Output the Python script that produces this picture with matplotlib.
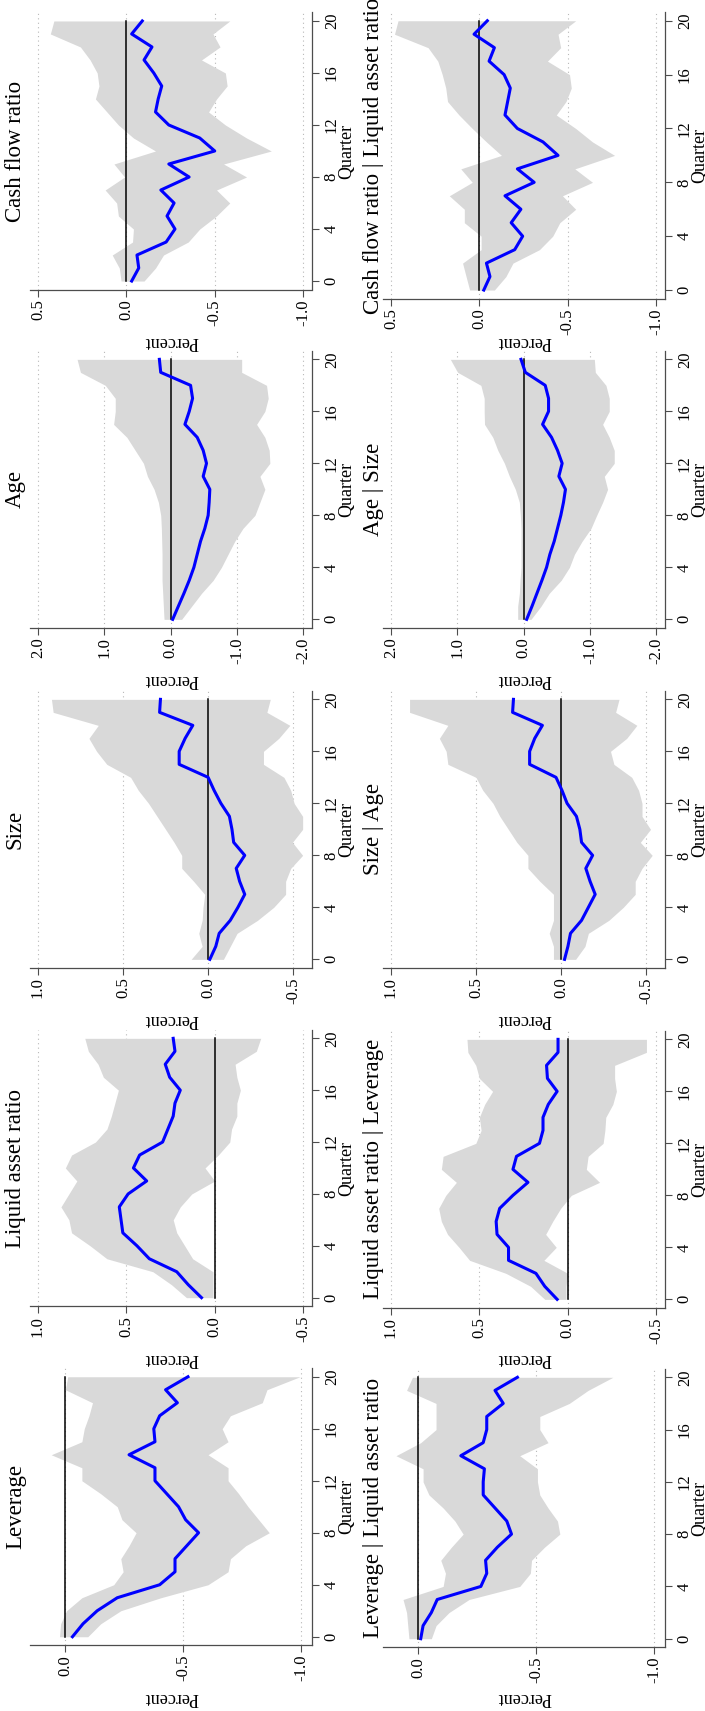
import matplotlib
matplotlib.use("Agg")
from matplotlib import pyplot as plt
import numpy as np

## Data: impulse responses (percent) by quarter, point estimate and band
quarters = np.arange(21)

lev_b = [-0.03, -0.075, -0.135, -0.22, -0.40, -0.465, -0.465, -0.515, -0.565, -0.51, -0.48,
         -0.43, -0.38, -0.38, -0.27, -0.38, -0.375, -0.40, -0.475, -0.425, -0.52]
lev_hi = [0.025, 0.02, -0.005, -0.07, -0.205, -0.245, -0.235, -0.27, -0.30, -0.24, -0.22,
          -0.15, -0.07, -0.07, 0.06, -0.07, -0.08, -0.10, -0.115, 0.0, -0.01]
lev_lo = [-0.095, -0.15, -0.235, -0.405, -0.605, -0.69, -0.70, -0.765, -0.865, -0.82, -0.775,
          -0.735, -0.69, -0.69, -0.605, -0.69, -0.665, -0.70, -0.835, -0.855, -0.995]

levliq_b = [-0.01, -0.02, -0.055, -0.08, -0.265, -0.29, -0.285, -0.335, -0.395, -0.375, -0.325,
            -0.275, -0.275, -0.28, -0.18, -0.275, -0.29, -0.29, -0.36, -0.325, -0.42]
levliq_hi = [0.04, 0.045, 0.05, 0.065, -0.105, -0.115, -0.095, -0.14, -0.19, -0.155, -0.105,
             -0.045, -0.02, -0.02, 0.095, -0.01, -0.075, -0.075, -0.075, 0.05, 0.025]
levliq_lo = [-0.055, -0.075, -0.13, -0.215, -0.43, -0.475, -0.48, -0.535, -0.60, -0.59, -0.55,
             -0.515, -0.505, -0.505, -0.43, -0.55, -0.515, -0.515, -0.64, -0.72, -0.825]

liq_b = [0.075, 0.15, 0.215, 0.37, 0.44, 0.52, 0.53, 0.54, 0.49, 0.385, 0.46,
         0.425, 0.295, 0.265, 0.235, 0.225, 0.195, 0.255, 0.28, 0.225, 0.235]
liq_hi = [0.16, 0.245, 0.35, 0.61, 0.705, 0.81, 0.825, 0.87, 0.825, 0.78, 0.845,
          0.81, 0.675, 0.61, 0.585, 0.565, 0.545, 0.63, 0.66, 0.715, 0.735]
liq_lo = [0.01, 0.01, 0.01, 0.125, 0.17, 0.215, 0.235, 0.195, 0.13, 0.0, 0.055,
          -0.02, -0.085, -0.095, -0.125, -0.125, -0.145, -0.125, -0.115, -0.235, -0.26]

liqlev_b = [0.06, 0.13, 0.18, 0.335, 0.335, 0.40, 0.405, 0.385, 0.31, 0.225, 0.31,
            0.29, 0.16, 0.14, 0.14, 0.11, 0.06, 0.115, 0.12, 0.055, 0.055]
liqlev_hi = [0.13, 0.21, 0.35, 0.555, 0.615, 0.68, 0.715, 0.73, 0.69, 0.63, 0.715,
             0.705, 0.52, 0.49, 0.50, 0.47, 0.425, 0.50, 0.52, 0.565, 0.57]
liqlev_lo = [0.01, 0.01, 0.0, 0.135, 0.065, 0.125, 0.085, 0.04, -0.02, -0.18, -0.105,
             -0.115, -0.2, -0.21, -0.215, -0.255, -0.275, -0.265, -0.265, -0.445, -0.445]

size_b = [-0.01, -0.045, -0.065, -0.13, -0.175, -0.215, -0.185, -0.165, -0.215, -0.15, -0.14,
          -0.125, -0.075, -0.035, 0.0, 0.17, 0.17, 0.135, 0.09, 0.285, 0.28]
size_hi = [0.10, 0.035, 0.055, 0.035, 0.03, 0.02, 0.085, 0.155, 0.155, 0.20, 0.25,
           0.30, 0.35, 0.41, 0.455, 0.595, 0.655, 0.70, 0.645, 0.91, 0.92]
size_lo = [-0.09, -0.13, -0.17, -0.29, -0.385, -0.455, -0.455, -0.485, -0.555, -0.495, -0.555,
           -0.555, -0.505, -0.485, -0.445, -0.325, -0.325, -0.415, -0.48, -0.345, -0.365]

sizeage_b = [-0.02, -0.04, -0.055, -0.12, -0.16, -0.20, -0.17, -0.145, -0.185, -0.12, -0.11,
             -0.09, -0.035, -0.005, 0.03, 0.185, 0.185, 0.155, 0.11, 0.285, 0.28]
sizeage_hi = [0.045, 0.045, 0.07, 0.045, 0.045, 0.045, 0.125, 0.195, 0.195, 0.26, 0.31,
              0.36, 0.40, 0.46, 0.50, 0.665, 0.675, 0.715, 0.665, 0.89, 0.89]
sizeage_lo = [-0.085, -0.14, -0.16, -0.28, -0.365, -0.435, -0.435, -0.475, -0.535, -0.465, -0.525,
              -0.475, -0.475, -0.455, -0.415, -0.31, -0.29, -0.385, -0.445, -0.32, -0.34]

age_b = [-0.03, -0.115, -0.20, -0.28, -0.35, -0.40, -0.45, -0.515, -0.565, -0.58, -0.59,
         -0.49, -0.54, -0.49, -0.40, -0.215, -0.28, -0.33, -0.30, 0.15, 0.17]
age_hi = [0.10, 0.11, 0.12, 0.13, 0.13, 0.13, 0.135, 0.14, 0.15, 0.185, 0.25,
          0.35, 0.41, 0.535, 0.66, 0.86, 0.835, 0.835, 0.985, 1.36, 1.41]
age_lo = [-0.165, -0.315, -0.465, -0.64, -0.765, -0.865, -0.965, -1.09, -1.27, -1.345, -1.42,
          -1.345, -1.495, -1.485, -1.42, -1.295, -1.42, -1.47, -1.445, -1.07, -1.07]

agesize_b = [-0.045, -0.125, -0.20, -0.275, -0.345, -0.395, -0.46, -0.51, -0.56, -0.60, -0.63,
             -0.53, -0.58, -0.51, -0.42, -0.285, -0.375, -0.375, -0.325, -0.025, 0.04]
agesize_hi = [0.09, 0.09, 0.065, 0.055, 0.04, 0.04, 0.04, 0.04, 0.05, 0.065, 0.125,
              0.215, 0.29, 0.39, 0.465, 0.59, 0.595, 0.595, 0.645, 0.995, 1.105]
agesize_lo = [-0.11, -0.26, -0.385, -0.565, -0.69, -0.765, -0.88, -1.015, -1.10, -1.19, -1.265,
              -1.215, -1.365, -1.365, -1.29, -1.19, -1.29, -1.29, -1.24, -1.08, -1.065]

cash_b = [-0.03, -0.07, -0.06, -0.225, -0.275, -0.23, -0.27, -0.195, -0.355, -0.24, -0.50,
          -0.415, -0.24, -0.165, -0.18, -0.20, -0.155, -0.10, -0.145, -0.03, -0.09]
cash_hi = [0.03, 0.04, 0.08, -0.035, -0.04, 0.045, 0.055, 0.12, 0.01, 0.07, -0.165,
           -0.04, 0.045, 0.11, 0.175, 0.155, 0.165, 0.205, 0.26, 0.43, 0.41]
cash_lo = [-0.10, -0.165, -0.21, -0.35, -0.415, -0.51, -0.585, -0.51, -0.68, -0.55, -0.82,
           -0.68, -0.56, -0.465, -0.51, -0.57, -0.56, -0.425, -0.53, -0.49, -0.585]

cashliq_b = [-0.025, -0.06, -0.04, -0.2, -0.245, -0.18, -0.235, -0.145, -0.31, -0.215, -0.445,
             -0.36, -0.215, -0.145, -0.16, -0.175, -0.14, -0.055, -0.085, 0.03, -0.045]
cashliq_hi = [0.055, 0.075, 0.095, -0.01, -0.01, 0.085, 0.085, 0.17, 0.04, 0.105, -0.125,
              -0.04, 0.04, 0.115, 0.18, 0.19, 0.21, 0.235, 0.29, 0.48, 0.46]
cashliq_lo = [-0.085, -0.15, -0.19, -0.34, -0.415, -0.455, -0.545, -0.47, -0.64, -0.54, -0.765,
              -0.64, -0.545, -0.435, -0.49, -0.52, -0.51, -0.385, -0.46, -0.445, -0.545]

titles_top = ["Leverage", "Liquid asset ratio", "Size", "Age", "Cash flow ratio"]
titles_bot = ["Leverage | Liquid asset ratio", "Liquid asset ratio | Leverage",
              "Size | Age", "Age | Size", "Cash flow ratio | Liquid asset ratio"]
series_top = [(lev_b, lev_lo, lev_hi), (liq_b, liq_lo, liq_hi), (size_b, size_lo, size_hi),
              (age_b, age_lo, age_hi), (cash_b, cash_lo, cash_hi)]
series_bot = [(levliq_b, levliq_lo, levliq_hi), (liqlev_b, liqlev_lo, liqlev_hi),
              (sizeage_b, sizeage_lo, sizeage_hi), (agesize_b, agesize_lo, agesize_hi),
              (cashliq_b, cashliq_lo, cashliq_hi)]
ticks = [[0.0, -0.5, -1.0], [1.0, 0.5, 0.0, -0.5], [1.0, 0.5, 0.0, -0.5],
         [2.0, 1.0, 0.0, -1.0, -2.0], [0.5, 0.0, -0.5, -1.0]]
qticks = [0, 4, 8, 12, 16, 20]

## Layout (pixels), figure is drawn turned on its side --------------------
W, H = 705, 1711
xlims = [(0.15, -1.046), (1.045, -0.55), (1.046, -0.61), (2.12, -2.13), (0.545, -1.05)]
vbox_top = [(1368.3, 1645.2), (1029.9, 1306.1), (690.9, 967.8), (350.9, 627.8), (12.5, 289.5)]
vbox_bot = [(1368.8, 1647.2), (1030.9, 1307.8), (690.9, 967.8), (350.9, 627.8), (12.0, 298.8)]
rows = [(30, 312, 15.5, 347, titles_top, series_top, vbox_top),
        (383, 665, 373, 700, titles_bot, series_bot, vbox_bot)]

font = "Liberation Serif"
plt.rcParams["font.family"] = [font, "DejaVu Serif"]
tsize = 16.5
fsize = 13
band_col = "#d9d9d9"

fig = plt.figure(figsize=(W / 100, H / 100), dpi=100)


def fx(x):
    return x / W


def fy(y):
    return 1 - y / H


for left, right, title_x, qlab_x, titles, series, vboxes in rows:
    for i in range(5):
        top, bot = vboxes[i]
        ax = fig.add_axes([fx(left), fy(bot), (right - left) / W, (bot - top) / H])
        b, lo, hi = series[i]

        ax.fill_betweenx(quarters, lo, hi, color=band_col, lw=0, zorder=2)
        ax.plot(np.zeros(len(quarters)), quarters, color="black", lw=1.1, zorder=3)
        ax.plot(b, quarters, color="#0000ff", lw=2.2, zorder=4)

        ax.set_xlim(xlims[i])
        ax.set_ylim(-0.65, 20.65)
        ax.set_xticks(ticks[i])
        ax.set_xticklabels(["%.1f" % t for t in ticks[i]])
        ax.set_yticks(qticks)
        ax.yaxis.tick_right()

        ax.grid(axis="x", color="0.72", lw=0.8, linestyle=(0, (1, 3)), zorder=1)
        ax.set_axisbelow(True)
        for s in ["top", "left"]:
            ax.spines[s].set_visible(False)
        for s in ["bottom", "right"]:
            ax.spines[s].set_color("0.3")
            ax.spines[s].set_linewidth(0.9)

        ax.tick_params(axis="x", labelrotation=90, length=5, width=0.8,
                       color="0.3", pad=2, labelsize=12)
        ax.tick_params(axis="y", labelrotation=90, length=5, width=0.8,
                       color="0.3", pad=3.5, labelsize=12)
        for lbl in ax.get_yticklabels():
            lbl.set_va("center")

        ymid = (top + bot) / 2
        xmid = (left + right) / 2
        fig.text(fx(title_x), fy(ymid), titles[i], rotation=90, fontsize=tsize,
                 ha="center", va="center")
        fig.text(fx(qlab_x), fy(ymid), "Quarter", rotation=90, fontsize=fsize,
                 ha="center", va="center")
        fig.text(fx(xmid), fy(vbox_top[i][1] + 52), "Percent", rotation=180,
                 fontsize=fsize, ha="center", va="center")

fig.savefig("out.png", dpi=100)
